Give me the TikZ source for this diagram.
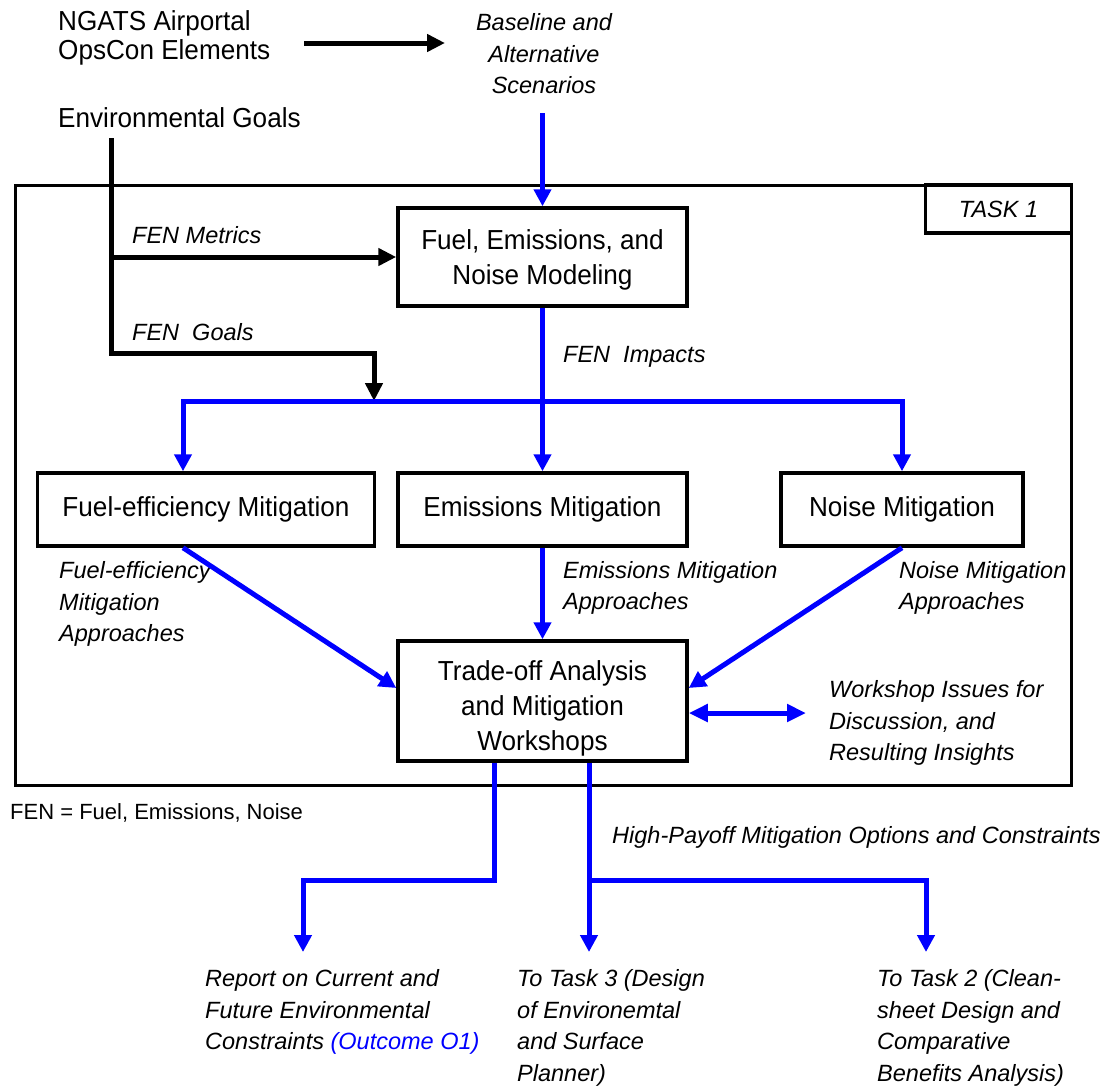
\documentclass[tikz,border=0pt]{standalone}
\usepackage{fontspec}
\setmainfont{Liberation Sans}
\newfontfamily\boxfont[FakeStretch=0.95]{Liberation Sans}
\usepackage{tikz}
\usetikzlibrary{arrows.meta, positioning, calc}
\definecolor{flowblue}{HTML}{0000FF}
\newcommand{\boxtxt}{\boxfont\fontsize{27.5}{35}\selectfont}
\newcommand{\toptxt}{\boxfont\fontsize{27.5}{29}\selectfont}
\newcommand{\lbltxt}{\fontsize{23.5}{31.5}\selectfont\itshape}

\begin{document}
\begin{tikzpicture}[x=1pt, y=-1pt,
  mitbox/.style={draw, line width=3.5pt, font=\boxtxt, align=center, inner sep=0pt},
  lbl/.style={font=\lbltxt, align=left, inner sep=0pt, anchor=west},
  blkarrow/.style={line width=5pt, -{Triangle[length=18pt,width=17pt]}},
  bluearrow/.style={flowblue, line width=5pt, -{Triangle[length=17pt,width=17pt]}}]
\useasboundingbox (0,0) rectangle (1106,1088);

\node[font=\toptxt, align=left, inner sep=0pt, anchor=west] (ngats) at (58,38) {NGATS Airportal\\OpsCon Elements};
\node[font=\toptxt, inner sep=0pt, anchor=west] (envgoals) at (58,118) {Environmental Goals};
\node[lbl, align=center, anchor=center] (scen) at (544,54) {Baseline and\\Alternative\\Scenarios};

\draw[line width=3pt] (15,185) rectangle (1071,785);
\node[draw, line width=3.5pt, font=\lbltxt, minimum width=146pt, minimum height=48pt] (task) at (998.5,209) {TASK 1};

\node[mitbox, minimum width=289pt, minimum height=98pt] (model) at (542.5,257) {\rule{0pt}{26pt}Fuel, Emissions, and\\Noise Modeling};
\node[mitbox, minimum width=337pt, minimum height=73pt] (fuelmit) at (206,509.5) {Fuel-efficiency Mitigation};
\node[mitbox, minimum width=289pt, minimum height=73pt] (emismit) at (542.5,509.5) {Emissions Mitigation};
\node[mitbox, minimum width=242pt, minimum height=73pt] (noisemit) at (902,509.5) {Noise Mitigation};
\node[mitbox, minimum width=289pt, minimum height=120pt] (trade) at (542.5,701) {\rule{0pt}{34pt}Trade-off Analysis\\and Mitigation\\Workshops};

\node[lbl] (fenmet) at (132,235) {FEN Metrics};
\node[lbl] (fengoal) at (132,332) {FEN\ \ Goals};
\node[lbl] (fenimp) at (563,357) {FEN\ \ Impacts};
\node[lbl] (fuelapp) at (59,604) {Fuel-efficiency\\Mitigation\\Approaches};
\node[lbl] (emisapp) at (563,588) {Emissions Mitigation\\Approaches};
\node[lbl] (noiseapp) at (899,588) {Noise Mitigation\\Approaches};
\node[lbl] (issues) at (829,723) {Workshop Issues for\\Discussion, and\\Resulting Insights};
\node[font=\fontsize{22}{26}\selectfont, inner sep=0pt, anchor=west] (fennote) at (10,813) {FEN = Fuel, Emissions, Noise};
\node[lbl] (highpay) at (612,837) {High-Payoff Mitigation Options and Constraints};
\node[lbl] (report) at (205,1012) {Report on Current and\\Future Environmental\\Constraints {\color{flowblue}(Outcome O1)}};
\node[lbl] (task3) at (517,1028) {To Task 3 (Design\\of Environemtal\\and Surface\\Planner)};
\node[lbl] (task2) at (877,1028) {To Task 2 (Clean-\\sheet Design and\\Comparative\\Benefits Analysis)};

\coordinate (opsA) at (304,43);
\coordinate (opsB) at (445,43);
\coordinate (scenout) at (542.5,113);
\coordinate (goaltop) at (111,138);
\coordinate (goalbend) at (111,353);
\coordinate (goalhit) at (374,401);
\coordinate (busL) at (183,401);
\coordinate (busR) at (902,401);
\coordinate (issuetip) at (806,713);
\coordinate (outA) at ([xshift=-48.5pt]trade.south);
\coordinate (outB) at ([xshift=46.5pt]trade.south);
\coordinate (split) at (0,880);
\coordinate (toreport) at (303,952);
\coordinate (totask3) at (589,952);
\coordinate (totask2) at (926,952);

\draw[blkarrow] (opsA) -- (opsB);
\draw[blkarrow] (goaltop) -- (goalbend) -| (goalhit);
\draw[blkarrow] (goaltop |- model.west) -- (model.west);

\draw[bluearrow] (scenout) -- (model.north);
\draw[bluearrow] (model.south) -- (emismit.north);
\draw[bluearrow] (busL) -| (noisemit.north);
\draw[bluearrow] (busR) -| (busL |- fuelmit.north);
\draw[bluearrow] (busL |- fuelmit.south) -- ([yshift=13pt]trade.west);
\draw[bluearrow] (noisemit.south) -- ([yshift=13pt]trade.east);
\draw[bluearrow] (emismit.south) -- (trade.north);
\draw[bluearrow, {Triangle[length=19pt,width=17pt]}-{Triangle[length=19pt,width=17pt]}] ([yshift=-12pt]trade.east) -- (issuetip);

\draw[bluearrow] (outA) -- (outA |- split) -| (toreport);
\draw[bluearrow] (outB) -- (totask3);
\draw[bluearrow] (outB |- split) -| (totask2);
\end{tikzpicture}
\end{document}
